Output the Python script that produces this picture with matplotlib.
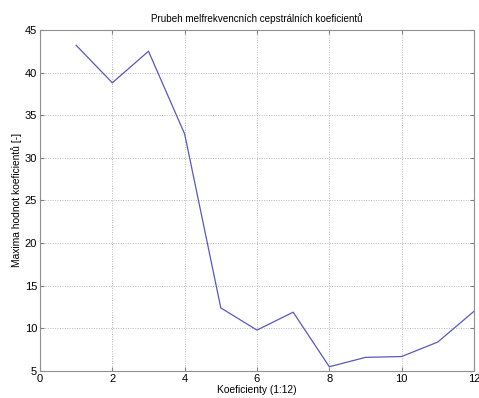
import numpy as np
import matplotlib.pyplot as plt

plt.rcParams['font.family'] = ['Liberation Sans', 'DejaVu Sans']

# maxima of each MFCC coefficient
koef = [1, 2, 3, 4, 5, 6, 7, 8, 9, 10, 11, 12]
maxima = [43.2, 38.8, 42.5, 32.8, 12.4, 9.8, 11.9, 5.5, 6.6, 6.7, 8.4, 12.0]

xticks = [0, 2, 4, 6, 8, 10, 12]
yticks = [5, 10, 15, 20, 25, 30, 35, 40, 45]

fig = plt.figure(figsize=(4.79, 3.98), dpi=100)
ax = fig.add_axes([0.0835, 0.0678, 0.906, 0.857])

ax.plot(koef, maxima, color='#5a5ab4', linewidth=0.9)

ax.set_xlim(0, 12)
ax.set_ylim(5, 45)
ax.set_xticks(xticks)
ax.set_yticks(yticks)
ax.grid(True, linestyle=(0, (1, 1.5)), color='#b8b8b8', linewidth=0.7)
ax.tick_params(direction='in', top=True, right=True, labelsize=8, length=3,
               color='#808080', pad=2)
for s in ax.spines.values():
    s.set_color('#909090')
    s.set_linewidth(0.8)

ax.set_title('Prubeh melfrekvencních cepstrálních koeficientů', fontsize=7.1, pad=6)
ax.set_xlabel('Koeficienty (1:12)', fontsize=7.4, labelpad=1)
ax.set_ylabel('Maxima hodnot koeficientů [-]', fontsize=7.4, labelpad=2)

fig.savefig('out.png', dpi=100)
